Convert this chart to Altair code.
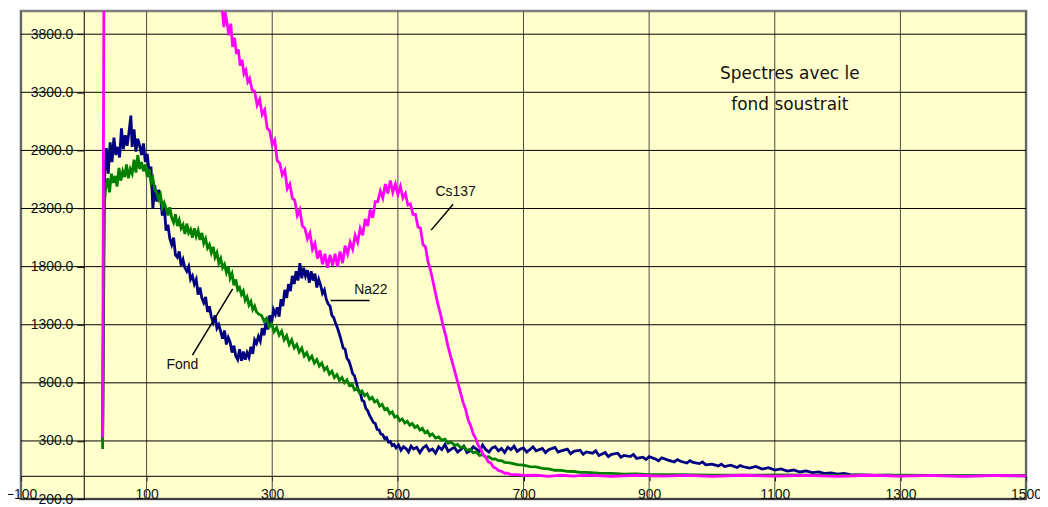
import altair as alt
import pandas as pd

# ---------------- data ----------------
na22 = [
    [30, 300], [33, 2550], [36, 2820], [39, 2600], [42, 2870], [45, 2700], [48, 2910], [51, 2760],
    [54, 2830], [57, 2740], [60, 2990], [63, 2810], [66, 2930], [69, 2840], [72, 2960], [75, 3100],
    [77, 2830], [80, 2980], [83, 2790], [86, 2900], [89, 2840], [92, 2760], [95, 2860], [98, 2700],
    [101, 2770], [104, 2620], [107, 2660], [110, 2300], [113, 2500], [116, 2360], [119, 2460], [122, 2400],
    [125, 2240], [128, 2330], [131, 2110], [134, 2160], [137, 2040], [140, 1990], [143, 2050], [146, 1900],
    [149, 1880], [152, 1930], [155, 1810], [158, 1860], [161, 1790], [164, 1760], [167, 1800], [170, 1690],
    [173, 1720], [176, 1650], [179, 1690], [182, 1560], [185, 1620], [188, 1530], [191, 1490], [194, 1540],
    [197, 1410], [200, 1460], [203, 1370], [206, 1320], [209, 1380], [212, 1270], [215, 1300], [218, 1240],
    [221, 1180], [224, 1250], [227, 1130], [230, 1190], [233, 1150], [236, 1060], [239, 1120], [242, 1030],
    [245, 1000], [248, 1090], [251, 990], [254, 1070], [257, 1000], [260, 1060], [263, 1020], [266, 1110],
    [269, 1050], [272, 1170], [275, 1140], [278, 1200], [281, 1160], [284, 1270], [287, 1210], [290, 1320],
    [293, 1260], [296, 1380], [299, 1310], [302, 1430], [305, 1390], [308, 1450], [311, 1370], [314, 1520],
    [317, 1460], [320, 1600], [323, 1530], [326, 1650], [329, 1590], [332, 1720], [335, 1650], [338, 1760],
    [341, 1680], [344, 1830], [347, 1700], [350, 1790], [353, 1720], [356, 1770], [359, 1660], [362, 1760],
    [365, 1680], [368, 1740], [371, 1620], [374, 1690], [377, 1640], [380, 1570], [383, 1600], [386, 1520],
    [389, 1480], [392, 1460], [395, 1380], [398, 1360], [401, 1310], [404, 1270], [407, 1220], [410, 1160],
    [413, 1100], [416, 1090], [419, 1010], [422, 990], [425, 940], [428, 880], [431, 860], [434, 800],
    [437, 740], [440, 720], [443, 650], [446, 640], [449, 580], [452, 560], [455, 520], [458, 490],
    [461, 460], [464, 450], [467, 400], [470, 395], [473, 360], [476, 355], [479, 320], [482, 330],
    [485, 290], [488, 295], [491, 260], [494, 270], [497, 240],
    [501, 265], [505, 220], [509, 250], [513, 235], [517, 205], [521, 255], [525, 230], [530, 245],
    [535, 200], [540, 240], [545, 260], [550, 215], [555, 230], [560, 195], [565, 250], [570, 225],
    [575, 270], [580, 210], [585, 230], [590, 245], [595, 205], [600, 225], [605, 255], [610, 200],
    [615, 215], [620, 250], [625, 230], [630, 210], [635, 265], [640, 225], [645, 205], [650, 240],
    [655, 250], [660, 215], [665, 235], [670, 200], [675, 245], [680, 225], [685, 255], [690, 210],
    [695, 230], [700, 240], [705, 205], [710, 225], [715, 250], [720, 215], [730, 235], [735, 200],
    [740, 225], [750, 245], [755, 205], [760, 215], [770, 230], [775, 190], [780, 210], [790, 220],
    [795, 185], [800, 205], [810, 195], [815, 215], [820, 175], [830, 200], [835, 165], [840, 185],
    [850, 195], [855, 160], [860, 175], [870, 165], [875, 185], [880, 150], [890, 160], [895, 140],
    [900, 165], [910, 145], [915, 130], [920, 155], [930, 135], [940, 120], [945, 140], [950, 125],
    [960, 110], [965, 130], [970, 115], [980, 105], [985, 120], [990, 95], [1000, 100], [1010, 85],
    [1015, 100], [1020, 80], [1030, 92], [1040, 72], [1045, 88], [1050, 78], [1060, 66], [1070, 80],
    [1080, 58], [1090, 70], [1100, 50], [1110, 60], [1120, 40], [1130, 50], [1140, 33], [1150, 42],
    [1160, 27], [1170, 34], [1180, 20], [1190, 26], [1200, 14], [1210, 20], [1220, 10], [1240, 9],
    [1260, 4], [1280, 5], [1300, 1], [1350, 2], [1400, 0], [1450, 1], [1500, 0],
]

fond = [
    [30, 230], [32, 2300], [35, 2480], [38, 2560], [41, 2440], [44, 2600], [47, 2520], [50, 2580],
    [53, 2490], [56, 2650], [59, 2540], [62, 2620], [65, 2570], [68, 2680], [71, 2560], [74, 2640],
    [77, 2600], [80, 2720], [83, 2610], [86, 2760], [89, 2640], [92, 2700], [95, 2620], [98, 2680],
    [101, 2570], [104, 2640], [107, 2520], [110, 2560], [113, 2460], [116, 2440], [119, 2380], [122, 2420],
    [125, 2310], [128, 2350], [131, 2300], [134, 2240], [137, 2310], [140, 2220], [143, 2180], [146, 2250],
    [149, 2150], [152, 2200], [155, 2130], [158, 2160], [161, 2080], [164, 2170], [167, 2090], [170, 2120],
    [173, 2050], [176, 2130], [179, 2060], [182, 2110], [185, 2030], [188, 2090], [191, 2000], [194, 2040],
    [197, 1960], [200, 1990], [203, 1920], [206, 1970], [209, 1880], [212, 1920], [215, 1830], [218, 1870],
    [221, 1790], [224, 1820], [227, 1750], [230, 1800], [233, 1700], [236, 1740], [239, 1640], [242, 1690],
    [245, 1600], [248, 1620], [251, 1560], [254, 1590], [257, 1510], [260, 1540], [263, 1470], [266, 1500],
    [269, 1430], [272, 1460], [275, 1410], [279, 1390], [283, 1380], [287, 1330], [291, 1355], [295, 1280],
    [299, 1310], [303, 1240], [307, 1275], [311, 1210], [315, 1245], [319, 1170], [323, 1205], [327, 1130],
    [331, 1170], [335, 1100], [339, 1130], [343, 1065], [347, 1100], [351, 1030], [355, 1060], [359, 1000],
    [363, 1030], [367, 970], [371, 1000], [375, 945], [379, 970], [383, 910], [387, 935], [391, 875],
    [395, 900], [399, 845], [403, 870], [407, 820], [411, 845], [415, 800], [419, 825], [423, 775],
    [427, 790], [431, 740], [435, 755], [439, 710], [443, 730], [447, 690], [451, 705], [455, 660],
    [459, 675], [463, 635], [467, 650], [471, 600], [475, 615], [479, 570], [483, 580], [487, 535],
    [491, 550], [495, 505], [499, 515], [503, 475], [507, 490], [511, 455], [515, 470], [519, 435],
    [523, 450], [527, 415], [531, 430], [535, 395], [539, 410], [543, 370], [547, 385], [551, 345],
    [555, 360], [560, 325], [565, 335], [570, 305], [575, 315], [580, 280], [585, 292], [590, 262],
    [595, 270], [600, 242], [605, 250], [610, 220], [615, 228], [620, 198], [625, 205], [630, 176],
    [635, 182], [640, 160], [645, 164], [650, 144], [655, 146], [660, 130], [665, 130], [670, 116],
    [680, 110], [690, 96], [700, 92], [710, 80], [720, 76], [730, 64], [740, 60], [750, 48],
    [760, 47], [770, 38], [780, 37], [790, 29], [800, 30], [820, 22], [840, 21], [860, 15],
    [880, 16], [900, 11], [950, 11], [1000, 6], [1100, 7], [1200, 4], [1300, 5], [1400, 2], [1500, 3],
]

cs137 = [
    [30, 330], [33, 6000], [60, 6500], [100, 6200], [150, 5500], [200, 4400], [215, 4100], [221, 3980],
    [223, 3860], [225, 3990], [228, 3900], [231, 3790], [234, 3890], [237, 3690], [240, 3770], [243, 3630],
    [246, 3670], [249, 3530], [252, 3580], [255, 3460], [258, 3490], [261, 3390], [264, 3420], [268, 3320],
    [272, 3310], [276, 3190], [280, 3240], [284, 3110], [288, 3150], [292, 2990], [296, 2970], [300, 2850],
    [304, 2890], [308, 2710], [312, 2690], [316, 2590], [320, 2630], [324, 2470], [328, 2510], [332, 2390],
    [336, 2370], [340, 2240], [344, 2290], [348, 2150], [352, 2130], [356, 2040], [360, 2090], [364, 1950],
    [368, 2000], [372, 1870], [376, 1940], [380, 1820], [384, 1910], [388, 1790], [392, 1900], [396, 1810],
    [400, 1910], [404, 1800], [408, 1930], [412, 1830], [416, 1980], [420, 1910], [424, 2010], [428, 1950],
    [432, 2070], [436, 2010], [440, 2130], [444, 2070], [448, 2210], [452, 2150], [456, 2290], [460, 2220],
    [464, 2360], [468, 2360], [472, 2450], [476, 2390], [480, 2510], [484, 2430], [488, 2540], [492, 2440],
    [496, 2510], [500, 2420], [504, 2490], [508, 2390], [512, 2430], [516, 2330], [520, 2340], [524, 2250],
    [528, 2250], [532, 2140], [536, 2130], [540, 1990], [544, 1970], [548, 1840], [552, 1770], [556, 1670],
    [560, 1570], [564, 1470], [568, 1390], [572, 1290], [576, 1210], [580, 1110], [584, 1030], [588, 950],
    [592, 870], [596, 790], [600, 710], [604, 630], [608, 570], [612, 480], [616, 430], [620, 360],
    [624, 320], [628, 260], [632, 230], [636, 180], [640, 160], [644, 120], [648, 110], [652, 75],
    [656, 65], [660, 45], [665, 38], [670, 22], [675, 23], [680, 10], [690, 10], [700, 3],
    [720, 5], [740, -5], [760, 5], [780, -3], [800, 6], [840, -4], [880, 5], [920, -3],
    [960, 4], [1000, -4], [1050, 5], [1100, -3], [1150, 4], [1200, -4], [1250, 5], [1300, -3],
    [1350, 4], [1400, -4], [1450, 3], [1500, 0],
]

series_names = ["Na22", "Fond", "Cs137"]
series_colors = ["#000080", "#008000", "#FF00FF"]

x_ticks = [-100, 100, 300, 500, 700, 900, 1100, 1300, 1500]
y_ticks = [-200, 300, 800, 1300, 1800, 2300, 2800, 3300, 3800]

title_lines = ["Spectres avec le", "fond soustrait"]
title_x = [1124, 1124]
title_y = [3458, 3193]

label_text = ["Cs137", "Na22", "Fond"]
label_x = [592, 457, 157]
label_y = [2441, 1603, 954]

leader_x = [588, 393, 173]
leader_y = [2336, 1509, 1039]
leader_x2 = [553, 455, 237]
leader_y2 = [2114, 1509, 1609]

# ---------------- chart ----------------
W, H = 1009, 490
XMIN, XMAX = -100, 1500
YMIN, YMAX = -200, 4000

xscale = alt.Scale(domain=[XMIN, XMAX], nice=False, zero=False)
yscale = alt.Scale(domain=[YMIN, YMAX], nice=False, zero=False)

# axes cross at x = 0 and y = 0 (offsets move them into the plot)
x_axis = alt.Axis(
    values=x_ticks, format="d", grid=False, title=None,
    offset=-H * (0 - YMIN) / (YMAX - YMIN),
    domainColor="#000000", domainWidth=1, tickColor="#000000", tickSize=5,
    labelPadding=7, labelFont="Liberation Sans", labelFontSize=14, labelColor="#111111",
    labelFlush=False, labelOverlap=False,
)
y_axis = alt.Axis(
    values=y_ticks, format=".1f", grid=False, title=None,
    offset=-W * (0 - XMIN) / (XMAX - XMIN),
    domainColor="#000000", domainWidth=1, tickColor="#000000", tickSize=7,
    labelPadding=4, labelFont="Liberation Sans", labelFontSize=14, labelColor="#111111",
    labelFlush=False, labelOverlap=False,
)


def X(field="x"):
    return alt.X(f"{field}:Q", scale=xscale, axis=x_axis)


def Y(field="y"):
    return alt.Y(f"{field}:Q", scale=yscale, axis=y_axis)


hgrid = alt.Chart(pd.DataFrame({"y": y_ticks})).mark_rule(
    color="#000000", strokeWidth=1
).encode(y=Y())

vgrid = alt.Chart(pd.DataFrame({"x": x_ticks})).mark_rule(
    color="#4a4a4a", strokeWidth=1
).encode(x=X())


def series_layer(pts, color):
    df = pd.DataFrame(pts, columns=["x", "y"])
    df["i"] = range(len(df))
    return alt.Chart(df).mark_line(
        color=color, strokeWidth=2.8, clip=True, interpolate="linear"
    ).encode(x=X(), y=Y(), order="i:Q")


lines = [series_layer(p, c) for p, c in zip([na22, fond, cs137], series_colors)]

leaders = alt.Chart(pd.DataFrame({
    "x": leader_x, "y": leader_y, "x2": leader_x2, "y2": leader_y2,
})).mark_rule(color="#000000", strokeWidth=1.5).encode(
    x=X(), y=Y(), x2="x2:Q", y2="y2:Q",
)

labels = alt.Chart(pd.DataFrame({"x": label_x, "y": label_y, "t": label_text})).mark_text(
    font="Liberation Sans", fontSize=14, color="#111111", align="center", baseline="middle"
).encode(x=X(), y=Y(), text="t:N")

note = alt.Chart(pd.DataFrame({"x": title_x, "y": title_y, "t": title_lines})).mark_text(
    font="DejaVu Sans", fontSize=17, color="#111111", align="center", baseline="middle"
).encode(x=X(), y=Y(), text="t:N")

chart = alt.layer(vgrid, hgrid, *lines, leaders, labels, note).properties(
    width=W, height=H,
    autosize=alt.AutoSizeParams(type="none"),
    padding={"left": 13, "top": 2, "right": 14, "bottom": 5},
).configure(background="#FFFFFF").configure_view(
    fill="#FFFFCC", stroke="#808080", strokeWidth=2.5
)

chart.save("out.html", embed_options={"renderer": "svg", "actions": False})
